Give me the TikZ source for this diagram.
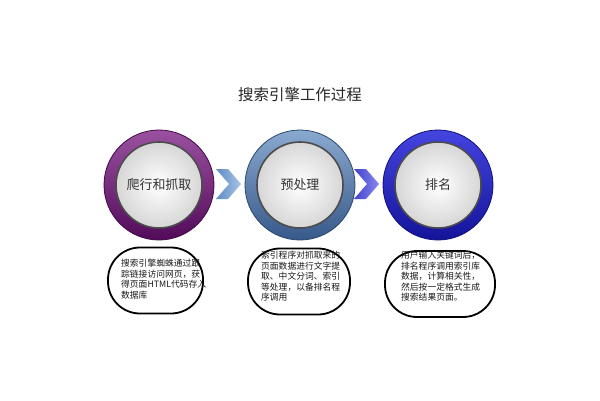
\documentclass[tikz,border=0pt]{standalone}
\usepackage{fontspec}
\setmainfont{Noto Sans CJK SC}
\usetikzlibrary{shapes.geometric}
\definecolor{purpL}{HTML}{9A52A0}
\definecolor{purpD}{HTML}{520A5A}
\definecolor{steelL}{HTML}{8AA9CF}
\definecolor{steelD}{HTML}{37598A}
\definecolor{blueL}{HTML}{4444E0}
\definecolor{blueD}{HTML}{14149A}
\definecolor{chevA}{HTML}{5E8CC4}
\definecolor{chevB}{HTML}{A8C4E6}
\definecolor{chevC}{HTML}{4040D0}
\definecolor{chevD}{HTML}{8A8AEA}
\tikzset{
  ring/.style={circle, minimum size=110bp, inner sep=0pt, line width=0.8bp, shading angle=30},
  disk/.style={circle, minimum size=86bp, inner sep=0pt, draw=black!70, line width=1.6bp,
    inner color=white, outer color=black!16, font=\fontsize{13}{15}\selectfont, text=black!80},
  bubble/.style={draw=black, line width=1.8bp, rounded corners=32bp, minimum height=66bp, inner sep=0pt},
  desc/.style={align=left, font=\fontsize{8.8}{10.6}\selectfont, inner sep=0pt, anchor=north west, text=black!90},
}
\begin{document}
\begin{tikzpicture}[x=1bp,y=-1bp]
\useasboundingbox (0,0) rectangle (600,400);
\fill[white] (0,0) rectangle (600,400);
\node[font=\fontsize{15.5}{18}\selectfont, text=black!85] (title) at (300,95) {搜索引擎工作过程};

% rings
\node[ring, draw=purpD!80!black, top color=purpL, bottom color=purpD] (r1) at (159,185) {};
\node[ring, draw=steelD!80!black, top color=steelL, bottom color=steelD] (r2) at (300,185) {};
\node[ring, draw=blueD!80!black, top color=blueL, bottom color=blueD] (r3) at (438,185) {};
\node[disk] (c1) at (r1) {爬行和抓取};
\node[disk] (c2) at (r2) {预处理};
\node[disk] (c3) at (r3) {排名};

% chevrons
\shade[left color=chevA, right color=chevB] (216,169) -- (228,169) -- (241,184) -- (228,199) -- (216,199) -- (229,184) -- cycle;
\shade[left color=chevC, right color=chevD] (354,169) -- (366,169) -- (379,184) -- (366,199) -- (354,199) -- (367,184) -- cycle;

% bubbles
\node[bubble, minimum width=95bp] (b1) at (155.5,280.5) {};
\node[bubble, minimum width=102bp] (b2) at (299,281.5) {};
\node[bubble, minimum width=110bp] (b3) at (440,284) {};

\node[desc] (t1) at (121,259) {搜索引擎蜘蛛通过跟\\踪链接访问网页，获\\得页面HTML代码存入\\数据库};
\node[desc] (t2) at (261,251) {索引程序对抓取来的\\页面数据进行文字提\\取、中文分词、索引\\等处理，以备排名程\\序调用};
\node[desc] (t3) at (401,251) {用户输入关键词后，\\排名程序调用索引库\\数据，计算相关性，\\然后按一定格式生成\\搜索结果页面。};
\end{tikzpicture}
\end{document}
